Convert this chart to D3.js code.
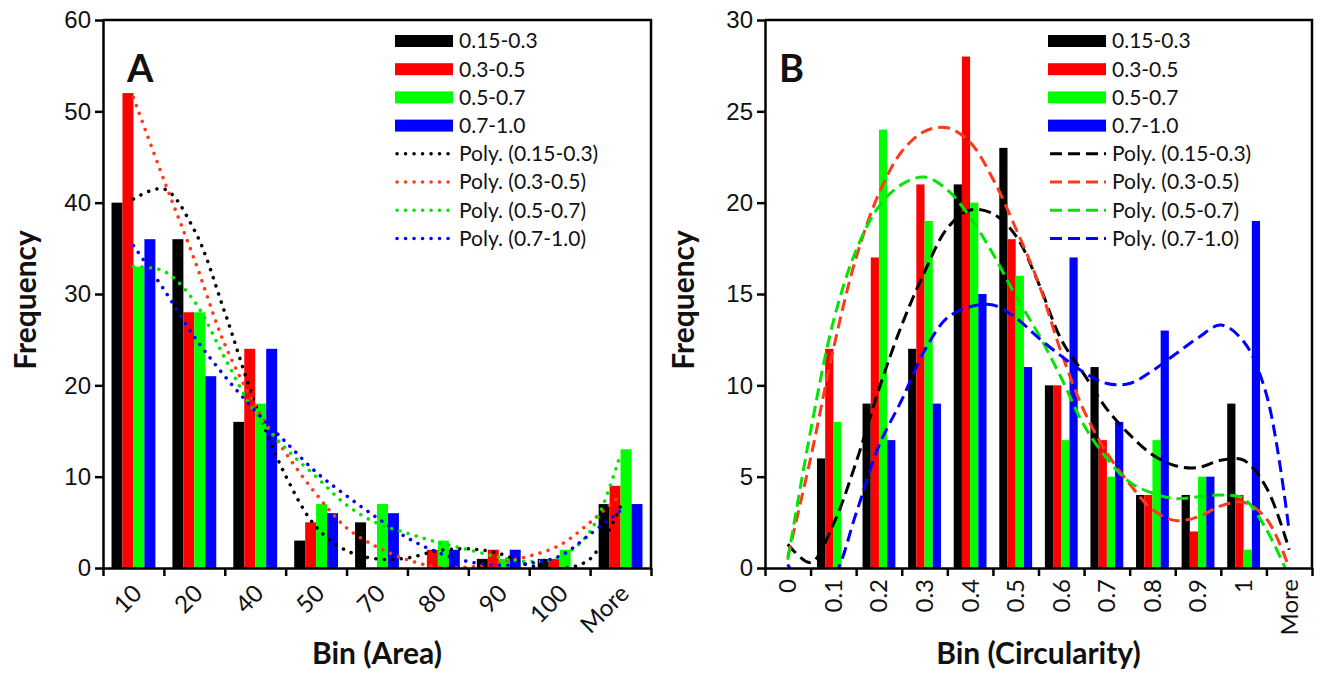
<!DOCTYPE html>
<html>
<head>
<meta charset="utf-8">
<script src="https://cdn.jsdelivr.net/npm/d3@7"></script>
<style>
  body { margin: 0; background: #fff; }
  svg { display: block; font-family: Lato, "Open Sans", sans-serif; }
  .axis path, .axis line { stroke: #000; stroke-width: 2.5; }
  .axis text { font-size: 24px; fill: #111; }
  .axis-title { font-size: 30px; font-weight: bold; fill: #111; }
  .legend text { font-size: 21px; fill: #111; }
</style>
</head>
<body>
<svg id="chart" width="1321" height="673"></svg>
<script>
// ---- data ----
const seriesNames = ['0.15-0.3', '0.3-0.5', '0.5-0.7', '0.7-1.0'];
const barColors = ['#000000', '#ff0000', '#00ff00', '#0000ff'];
const trendColors = ['#000000', '#ff3a1a', '#00e600', '#0000ff'];

// Panel A: Bin (Area)
const areaBins = ['10', '20', '40', '50', '70', '80', '90', '100', 'More'];
const areaFreq015 = [40, 36, 16, 3, 5, 0, 1, 1, 7];
const areaFreq03  = [52, 28, 24, 5, 0, 2, 2, 1, 9];
const areaFreq05  = [33, 28, 18, 7, 7, 3, 1, 2, 13];
const areaFreq07  = [36, 21, 24, 6, 6, 2, 2, 0, 7];
const areaTicks = [0, 10, 20, 30, 40, 50, 60];
// poly trendlines, sampled every half bin from the first to the last bin
const areaPoly015 = [40.4, 41.5, 37.0, 28.0, 18.0, 10.1, 4.5, 1.9, 1.0, 1.1, 1.9, 2.1, 1.6, 0.3, -0.1, 1.0, 6.8];
const areaPoly03  = [51.5, 42.5, 33.8, 24.5, 17.8, 12.6, 8.1, 4.4, 2.3, 0.9, 0.1, 0.1, 0.6, 1.3, 2.5, 5.0, 8.0];
const areaPoly05  = [33.0, 32.5, 29.2, 23.0, 17.0, 13.1, 10.0, 6.9, 4.9, 3.8, 2.8, 2.0, 1.2, 0.7, 1.2, 4.0, 12.5];
const areaPoly07  = [35.3, 30.5, 25.3, 21.0, 17.2, 13.8, 10.5, 7.9, 5.5, 3.3, 1.7, 0.7, 0.3, 0.5, 1.3, 3.7, 6.3];

// Panel B: Bin (Circularity)
const circBins = ['0', '0.1', '0.2', '0.3', '0.4', '0.5', '0.6', '0.7', '0.8', '0.9', '1', 'More'];
const circFreq015 = [0, 6, 9, 12, 21, 23, 10, 11, 4, 4, 9, 0];
const circFreq03  = [0, 12, 17, 21, 28, 18, 10, 7, 4, 2, 4, 0];
const circFreq05  = [0, 8, 24, 19, 20, 16, 7, 5, 7, 5, 1, 0];
const circFreq07  = [0, 0, 7, 9, 15, 11, 17, 8, 13, 5, 19, 0];
const circTicks = [0, 5, 10, 15, 20, 25, 30];
const circPoly015 = [1.3, 0.3, 2.4, 5.8, 9.8, 13.3, 16.2, 18.6, 19.6, 19.4, 18.2, 15.6, 12.5, 10.6, 8.7, 7.3, 6.2, 5.6, 5.5, 5.9, 5.9, 4.4, 1.0];
const circPoly03  = [0.6, 6.0, 12.0, 17.0, 20.5, 22.8, 23.9, 24.1, 23.3, 21.3, 18.6, 15.6, 11.8, 8.6, 6.3, 4.6, 3.2, 2.6, 2.8, 3.4, 3.6, 2.7, 0];
const circPoly05  = [0.45, 7.5, 13.5, 17.4, 19.8, 21.0, 21.4, 20.7, 19.2, 17.2, 14.9, 12.8, 10.4, 7.8, 6.0, 4.7, 4.1, 3.8, 3.9, 4.0, 3.8, 2.1, -0.5];
const circPoly07  = [0.2, -1.5, -0.5, 3.0, 6.7, 9.2, 11.9, 13.7, 14.3, 14.4, 13.7, 12.6, 11.6, 10.7, 10.1, 10.1, 10.8, 11.7, 12.6, 13.3, 12.4, 9.5, 2.0];

class HistogramPanel {
  constructor(_config) {
    this.config = _config;
    this.initVis();
  }

  initVis() {
    const vis = this;
    const c = vis.config;
    const svg = d3.select('#chart');
    const w = c.right - c.left, h = c.bottom - c.top;

    vis.g = svg.append('g').attr('transform', `translate(${c.left},${c.top})`);

    vis.x0 = d3.scaleBand().domain(c.bins).range([0, w]).paddingInner(0.28).paddingOuter(0.14);
    vis.x1 = d3.scaleBand().domain(seriesNames).range([0, vis.x0.bandwidth()]);
    vis.xEdge = d3.scaleLinear().domain([0, c.bins.length]).range([0, w]);
    vis.xTrend = d3.scaleLinear().domain([0, c.bins.length - 1])
      .range([vis.xEdge(0.5), vis.xEdge(c.bins.length - 0.5)]);
    vis.y = d3.scaleLinear().domain([0, c.yMax]).range([h, 0]);

    // clip for trendlines
    vis.g.append('clipPath').attr('id', c.id + '-clip')
      .append('rect').attr('width', w).attr('height', h);

    // bars
    const groups = vis.g.append('g').selectAll('g')
      .data(c.bins.map((b, i) => ({ bin: b, vals: c.freqs.map(f => f[i]) })))
      .join('g')
      .attr('transform', d => `translate(${vis.x0(d.bin)},0)`);
    groups.selectAll('rect')
      .data(d => d.vals.map((v, k) => ({ k, v })))
      .join('rect')
      .attr('x', d => vis.x1(seriesNames[d.k]))
      .attr('width', vis.x1.bandwidth())
      .attr('y', d => vis.y(d.v))
      .attr('height', d => h - vis.y(d.v))
      .attr('fill', d => barColors[d.k]);

    // trendlines
    const line = d3.line()
      .x((d, i) => vis.xTrend(i / 2))
      .y(d => vis.y(d))
      .curve(d3.curveCatmullRom);
    vis.g.append('g').attr('clip-path', `url(#${c.id}-clip)`)
      .selectAll('path')
      .data(c.polys)
      .join('path')
      .attr('d', line)
      .attr('fill', 'none')
      .attr('stroke', (d, k) => trendColors[k])
      .attr('stroke-width', c.dotted ? 3.5 : 3)
      .attr('stroke-linecap', c.dotted ? 'round' : 'butt')
      .attr('stroke-dasharray', c.dotted ? '0.1 8.4' : '12 6');

    // frame (top + right)
    vis.g.append('path')
      .attr('d', `M0,0H${w}V${h}`)
      .attr('fill', 'none').attr('stroke', '#000').attr('stroke-width', 2.5);

    // axes
    vis.g.append('g').attr('class', 'axis')
      .call(d3.axisLeft(vis.y).tickValues(c.yTicks).tickSize(8).tickSizeOuter(0).tickPadding(4));
    vis.g.append('g').attr('class', 'axis')
      .attr('transform', `translate(0,${h})`)
      .call(d3.axisBottom(vis.xEdge).tickValues(d3.range(c.bins.length + 1))
        .tickFormat('').tickSize(8).tickSizeOuter(0));

    // category labels
    vis.g.append('g').attr('class', 'axis')
      .selectAll('text')
      .data(c.bins)
      .join('text')
      .attr('text-anchor', 'end')
      .attr('dy', '0.35em')
      .attr('transform', (d, i) => c.labelAngle === -45
        ? `translate(${vis.xEdge(i + 0.5) + 4},${h + 21}) rotate(-45)`
        : `translate(${vis.xEdge(i + 0.5)},${h + 11}) rotate(-90)`)
      .text(d => d);

    // axis titles
    vis.g.append('text').attr('class', 'axis-title')
      .attr('text-anchor', 'middle')
      .attr('x', w / 2).attr('y', 664 - c.top)
      .text(c.xTitle);
    vis.g.append('text').attr('class', 'axis-title')
      .attr('text-anchor', 'middle')
      .attr('transform', `translate(${c.yTitleX - c.left},${h / 2 + 6}) rotate(-90)`)
      .text('Frequency');

    // panel letter
    vis.g.append('text')
      .attr('x', c.letterX).attr('y', 62)
      .attr('font-size', 38).attr('font-weight', 'bold').attr('fill', '#111')
      .text(c.letter);

    // legend
    const lg = svg.append('g').attr('class', 'legend')
      .attr('transform', `translate(${c.legendX},41)`);
    const rows = seriesNames.map((n, k) => ({ type: 'bar', k, label: n }))
      .concat(seriesNames.map((n, k) => ({ type: 'poly', k, label: `Poly. (${n})` })));
    const row = lg.selectAll('g').data(rows).join('g')
      .attr('transform', (d, i) => `translate(0,${i * 28.2})`);
    row.filter(d => d.type === 'bar').append('rect')
      .attr('y', -6).attr('width', 58).attr('height', 12)
      .attr('fill', d => barColors[d.k]);
    row.filter(d => d.type === 'poly').append('line')
      .attr('x1', 2).attr('x2', 58)
      .attr('stroke', d => trendColors[d.k])
      .attr('stroke-width', c.dotted ? 3.5 : 3)
      .attr('stroke-linecap', c.dotted ? 'round' : 'butt')
      .attr('stroke-dasharray', c.dotted ? '0.1 8.4' : '12 6');
    row.append('text')
      .attr('x', 64).attr('dy', '0.35em')
      .text(d => d.label);
  }
}

new HistogramPanel({
  id: 'areaA', left: 103, right: 651, top: 20, bottom: 568,
  bins: areaBins, yMax: 60, yTicks: areaTicks,
  freqs: [areaFreq015, areaFreq03, areaFreq05, areaFreq07],
  polys: [areaPoly015, areaPoly03, areaPoly05, areaPoly07],
  dotted: true, labelAngle: -45,
  xTitle: 'Bin (Area)', yTitleX: 36, letter: 'A', letterX: 24, legendX: 395
});

new HistogramPanel({
  id: 'circB', left: 765, right: 1312, top: 20, bottom: 568,
  bins: circBins, yMax: 30, yTicks: circTicks,
  freqs: [circFreq015, circFreq03, circFreq05, circFreq07],
  polys: [circPoly015, circPoly03, circPoly05, circPoly07],
  dotted: false, labelAngle: -90,
  xTitle: 'Bin (Circularity)', yTitleX: 694, letter: 'B', letterX: 14, legendX: 1048
});
</script>
</body>
</html>
